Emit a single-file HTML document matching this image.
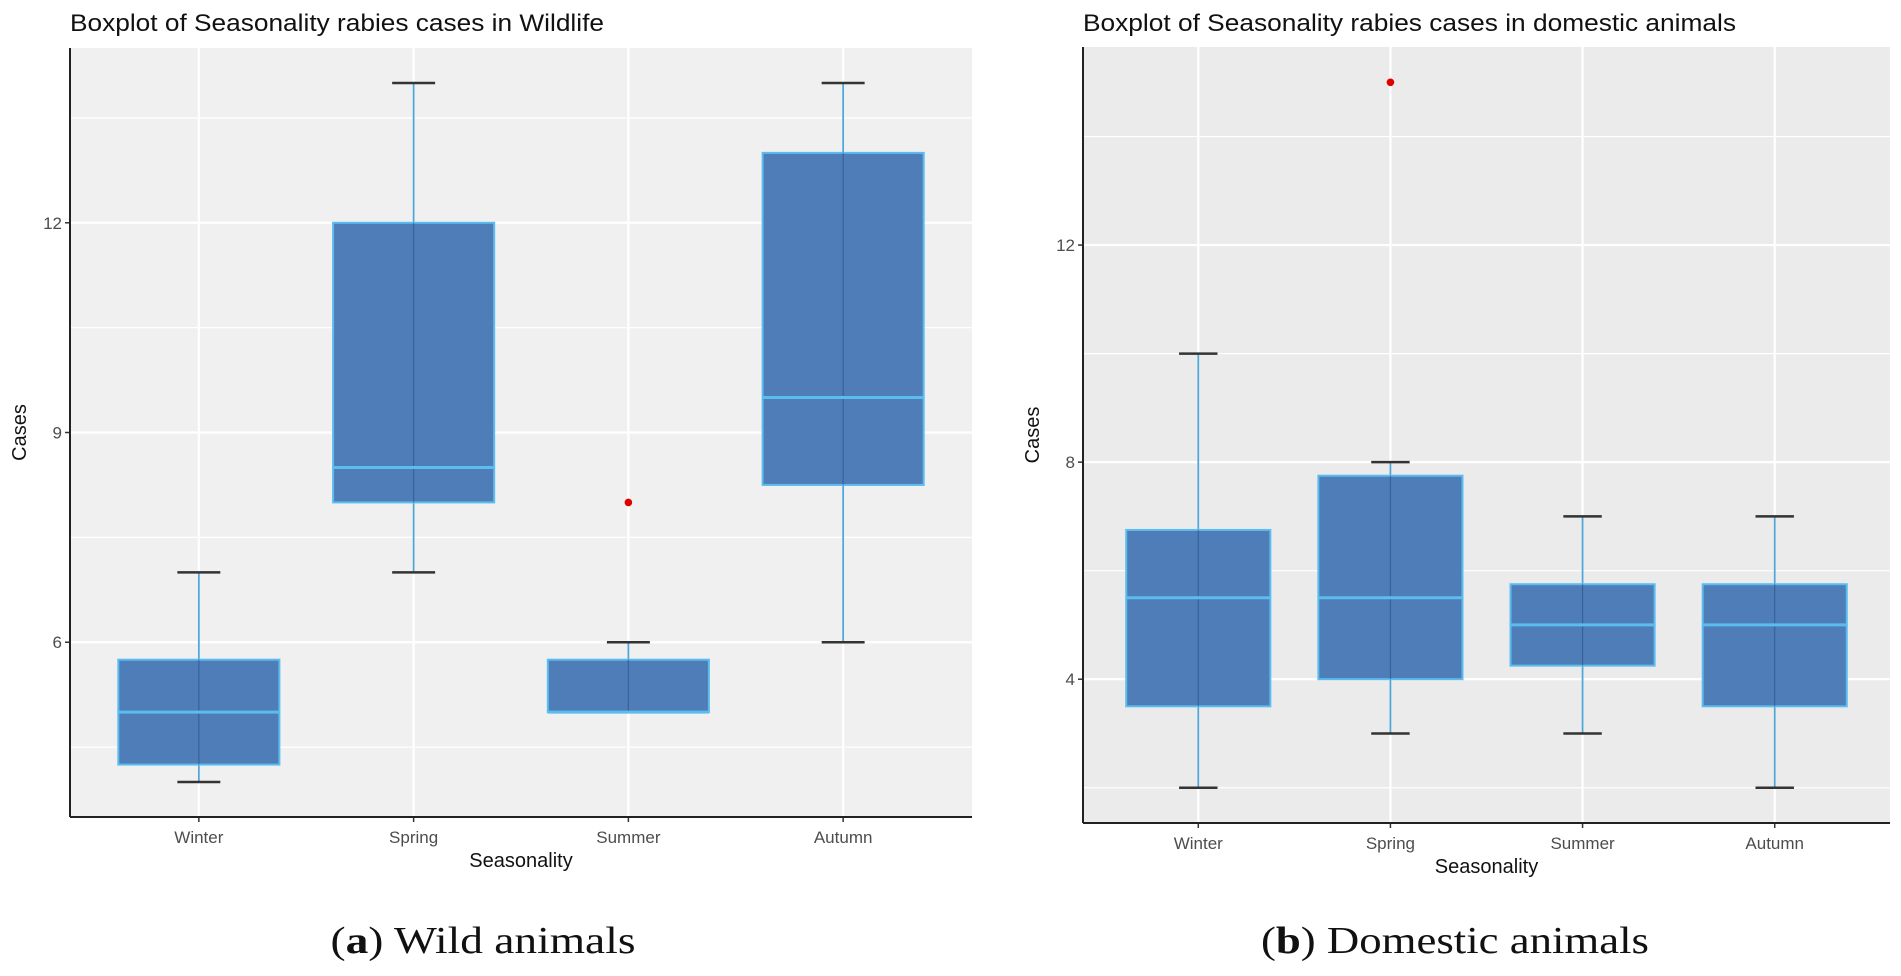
<!DOCTYPE html>
<html><head><meta charset="utf-8"><style>
html,body{margin:0;padding:0;background:#fff;width:1901px;height:976px;overflow:hidden}
svg{display:block}
</style></head><body>
<svg id="fig" width="1901" height="976"></svg>
<script>
const categories = ["Winter","Spring","Summer","Autumn"];
// wildlife
const wildMin = [4, 7, 5, 6];
const wildQ1 = [4.25, 8, 5, 8.25];
const wildMed = [5, 8.5, 5, 9.5];
const wildQ3 = [5.75, 12, 5.75, 13];
const wildMax = [7, 14, 6, 14];
const wildOutCat = [2];
const wildOutVal = [8];
const wildTicks = [6, 9, 12];
// domestic
const domMin = [2, 3, 3, 2];
const domQ1 = [3.5, 4, 4.25, 3.5];
const domMed = [5.5, 5.5, 5, 5];
const domQ3 = [6.75, 7.75, 5.75, 5.75];
const domMax = [10, 8, 7, 7];
const domOutCat = [1];
const domOutVal = [15];
const domTicks = [4, 8, 12];

const NS = "http://www.w3.org/2000/svg";
const svg = document.getElementById('fig');
function mk(tag, attrs, parent, txt){
  const e = document.createElementNS(NS, tag);
  for (const k in attrs) e.setAttribute(k, attrs[k]);
  if (txt !== undefined) e.textContent = txt;
  (parent||svg).appendChild(e);
  return e;
}
function panel(cfg){
  const g = mk('g', {});
  
  
  const L=cfg.left,R=cfg.right,T=cfg.top,B=cfg.bottom;
  const y = v => B - (v - cfg.ymin)/(cfg.ymax - cfg.ymin)*(B-T);
  const bw = (R-L)/4.2;
  const x = i => L + (i+0.6)*bw;
  const bg = mk('rect',{x:L,y:T,width:R-L,height:B-T,fill:cfg.bg},g);
  
  
  for (let i=0;i<cfg.ticks.length+1;i++){
    const step = cfg.ticks[1]-cfg.ticks[0];
    const v = cfg.ticks[0] - step/2 + i*step;
    if (v>cfg.ymin && v<cfg.ymax){
      const ln = mk('line',{x1:L,x2:R,y1:y(v),y2:y(v),stroke:'#fff','stroke-width':1.2},g);
      
      
    }
  }
  cfg.ticks.forEach(t=>{
    const ln = mk('line',{x1:L,x2:R,y1:y(t),y2:y(t),stroke:'#fff','stroke-width':2.2},g);
    
    
    mk('line',{x1:L-5,x2:L,y1:y(t),y2:y(t),stroke:'#333','stroke-width':1.5},g);
    const lb = mk('text',{x:L-8,y:y(t)+6,'text-anchor':'end','font-size':17,fill:'#4d4d4d','font-family':'Liberation Sans, sans-serif'},g,String(t));
    
    
  });
  categories.forEach((c,i)=>{
    const ln = mk('line',{x1:x(i),x2:x(i),y1:T,y2:B,stroke:'#fff','stroke-width':2.2},g);
    
    
  });
  categories.forEach((c,i)=>{
    const cx=x(i), hw=bw*0.375, cw=bw*0.1;
    const wl = mk('line',{x1:cx,x2:cx,y1:y(cfg.max[i]),y2:y(cfg.min[i]),stroke:'#4fa7d8','stroke-width':1.8},g);
    
    
    [cfg.max[i],cfg.min[i]].forEach(v=>{
      const cp = mk('line',{x1:cx-cw,x2:cx+cw,y1:y(v),y2:y(v),stroke:'#333','stroke-width':2.5},g);
      
      
    });
    const bx = mk('rect',{x:cx-hw,y:y(cfg.q3[i]),width:2*hw,height:y(cfg.q1[i])-y(cfg.q3[i]),fill:'#4f7db8',stroke:'#5bbcf0','stroke-width':2},g);
    
    
    mk('line',{x1:cx,x2:cx,y1:y(cfg.q3[i]),y2:y(cfg.q1[i]),stroke:'#2f5690','stroke-width':1.2,opacity:0.7},g);
    const md = mk('line',{x1:cx-hw,x2:cx+hw,y1:y(cfg.med[i]),y2:y(cfg.med[i]),stroke:'#5bbcf0','stroke-width':3},g);
    
    
    mk('line',{x1:cx,x2:cx,y1:B,y2:B+5,stroke:'#333','stroke-width':1.5},g);
    const tl = mk('text',{x:cx,y:B+26,'text-anchor':'middle','font-size':17,fill:'#4d4d4d','font-family':'Liberation Sans, sans-serif'},g,c);
    
    
  });
  cfg.outCat.forEach((ci,k)=>{
    const p = mk('circle',{cx:x(ci),cy:y(cfg.outVal[k]),r:3.8,fill:'#e00000'},g);
    
    
  });
  mk('line',{x1:L,x2:L,y1:T,y2:B,stroke:'#222','stroke-width':2},g);
  mk('line',{x1:L,x2:R,y1:B,y2:B,stroke:'#222','stroke-width':2},g);
  const tt = mk('text',{x:L,y:31,'font-size':24,fill:'#111','font-family':'Liberation Sans, sans-serif',textLength:cfg.titleW,lengthAdjust:'spacingAndGlyphs'},g,cfg.title);
  
  
  const xt = mk('text',{x:(L+R)/2,y:B+50,'text-anchor':'middle','font-size':20,fill:'#111','font-family':'Liberation Sans, sans-serif'},g,'Seasonality');
  
  
  const yt = mk('text',{x:0,y:0,'text-anchor':'middle','font-size':20,fill:'#111','font-family':'Liberation Sans, sans-serif',transform:'translate('+(L-44)+','+((T+B)/2)+') rotate(-90)'},g,'Cases');
  
  
  const cap = mk('text',{x:cfg.capX,y:953,'text-anchor':'middle','font-size':38,fill:'#111','font-family':'Liberation Serif, serif',textLength:cfg.capW,lengthAdjust:'spacingAndGlyphs'},svg);
  
  
  mk('tspan',{},cap,'(');
  mk('tspan',{'font-weight':'bold'},cap,cfg.capLetter);
  mk('tspan',{},cap,') '+cfg.capText);
}
panel({name:'wildlife-panel',left:70,right:972,top:48,bottom:817,ymin:3.5,ymax:14.5,bg:'#f0f0f0',
  ticks:wildTicks,min:wildMin,q1:wildQ1,med:wildMed,q3:wildQ3,max:wildMax,outCat:wildOutCat,outVal:wildOutVal,
  title:'Boxplot of Seasonality rabies cases in Wildlife',titleW:534,capX:483,capW:305,capLetter:'a',capText:'Wild animals'});
panel({name:'domestic-panel',left:1083,right:1890,top:47,bottom:823,ymin:1.35,ymax:15.65,bg:'#ebebeb',
  ticks:domTicks,min:domMin,q1:domQ1,med:domMed,q3:domQ3,max:domMax,outCat:domOutCat,outVal:domOutVal,
  title:'Boxplot of Seasonality rabies cases in domestic animals',titleW:653,capX:1455,capW:388,capLetter:'b',capText:'Domestic animals'});
</script>
</body></html>
